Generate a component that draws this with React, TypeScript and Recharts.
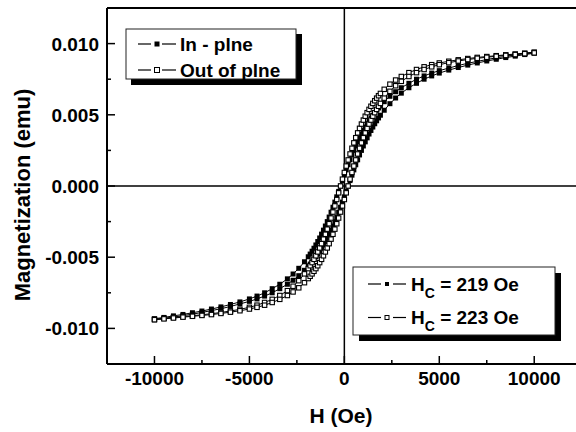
import React from 'react';
import { ScatterChart, Scatter, XAxis, YAxis, ReferenceLine } from 'recharts';

const hGrid = [-10000,-9500,-9000,-8500,-8000,-7500,-7000,-6500,-6000,-5500,-5000,-4600,-4200,-3800,-3400,-3000,-2700,-2400,-2100,
-1900,-1800,-1700,-1600,-1500,-1400,-1300,-1200,-1100,-1000,-900,-800,-700,-600,-500,-400,-300,-200,-100,0,100,200,300,400,500,600,700,800,900,1000,1100,1200,1300,1400,1500,1600,1700,1800,1900,
2100,2400,2700,3000,3400,3800,4200,4600,5000,5500,6000,6500,7000,7500,8000,8500,9000,9500,10000];

// Out of plane, descending field branch
const outDown = [-0.00935,-0.00929,-0.00923,-0.00917,-0.00911,-0.00904,-0.00897,-0.00888,-0.00878,-0.00866,-0.00852,-0.00837,-0.00818,-0.00796,-0.00769,-0.00735,-0.00704,-0.00665,-0.00617,
-0.0058,-0.0056,-0.00538,-0.00515,-0.0049,-0.00463,-0.00435,-0.00405,-0.00373,-0.00339,-0.00303,-0.00265,-0.00225,-0.00183,-0.0014,-0.00095,-0.00048,0,0.00048,0.00095,0.0014,0.00183,0.00225,0.00265,0.00303,0.00339,0.00373,0.00405,0.00435,0.00463,0.0049,0.00515,0.00538,0.0056,0.0058,0.00599,0.00617,0.00634,0.0065,
0.00679,0.00715,0.00744,0.00769,0.00796,0.00818,0.00837,0.00852,0.00864,0.00876,0.00886,0.00895,0.00903,0.00909,0.00915,0.00921,0.00927,0.00933,0.00939];

// Out of plane, ascending field branch
const outUp = [-0.00939,-0.00933,-0.00927,-0.00921,-0.00915,-0.00909,-0.00903,-0.00895,-0.00886,-0.00876,-0.00864,-0.00852,-0.00837,-0.00818,-0.00796,-0.00769,-0.00744,-0.00715,-0.00679,
-0.0065,-0.00634,-0.00617,-0.00599,-0.0058,-0.0056,-0.00538,-0.00515,-0.0049,-0.00463,-0.00435,-0.00405,-0.00373,-0.00339,-0.00303,-0.00265,-0.00225,-0.00183,-0.0014,-0.00095,-0.00048,0,0.00048,0.00095,0.0014,0.00183,0.00225,0.00265,0.00303,0.00339,0.00373,0.00405,0.00435,0.00463,0.0049,0.00515,0.00538,0.0056,0.0058,
0.00617,0.00665,0.00704,0.00735,0.00769,0.00796,0.00818,0.00837,0.00852,0.00866,0.00878,0.00888,0.00897,0.00904,0.00911,0.00917,0.00923,0.00929,0.00935];

// In plane, descending field branch
const inDown = [-0.00932,-0.00923,-0.00912,-0.00902,-0.0089,-0.00878,-0.00864,-0.00849,-0.00832,-0.00814,-0.00793,-0.00773,-0.0075,-0.00721,-0.0069,-0.00652,-0.00618,-0.00578,-0.00532,
-0.00497,-0.00478,-0.00458,-0.00437,-0.00414,-0.0039,-0.00365,-0.00338,-0.0031,-0.00281,-0.0025,-0.00218,-0.00184,-0.00149,-0.00113,-0.00076,-0.00038,0,0.00038,0.00076,0.00113,0.00149,0.00184,0.00218,0.0025,0.00281,0.0031,0.00338,0.00365,0.0039,0.00414,0.00437,0.00458,0.00478,0.00497,0.00515,0.00532,0.00548,0.00563,
0.00592,0.0063,0.00662,0.0069,0.00721,0.0075,0.00773,0.00793,0.0081,0.00828,0.00846,0.00862,0.00875,0.00888,0.009,0.0091,0.00921,0.00931,0.0094];

// In plane, ascending field branch
const inUp = [-0.0094,-0.00931,-0.00921,-0.0091,-0.009,-0.00888,-0.00875,-0.00862,-0.00846,-0.00828,-0.0081,-0.00793,-0.00773,-0.0075,-0.00721,-0.0069,-0.00662,-0.0063,-0.00592,
-0.00563,-0.00548,-0.00532,-0.00515,-0.00497,-0.00478,-0.00458,-0.00437,-0.00414,-0.0039,-0.00365,-0.00338,-0.0031,-0.00281,-0.0025,-0.00218,-0.00184,-0.00149,-0.00113,-0.00076,-0.00038,0,0.00038,0.00076,0.00113,0.00149,0.00184,0.00218,0.0025,0.00281,0.0031,0.00338,0.00365,0.0039,0.00414,0.00437,0.00458,0.00478,0.00497,
0.00532,0.00578,0.00618,0.00652,0.0069,0.00721,0.0075,0.00773,0.00793,0.00814,0.00832,0.00849,0.00864,0.00878,0.0089,0.00902,0.00912,0.00923,0.00932];

const xTicks = [-10000, -7500, -5000, -2500, 0, 2500, 5000, 7500, 10000];
const yTicks = [-0.01, -0.0075, -0.005, -0.0025, 0, 0.0025, 0.005, 0.0075, 0.01];

const legendTop = ['In - plne', 'Out of plne'];
const legendBottom = ['219', '223'];

const FONT = '"Liberation Sans", Arial, Helvetica, sans-serif';

const toPts = (m: number[]) => hGrid.map((h, i) => ({ h, m: m[i] }));

const FilledSq = (p: any) => (
  <rect x={p.cx - 2.5} y={p.cy - 2.5} width={5} height={5} fill="#000" />
);
const OpenSq = (p: any) => (
  <rect x={p.cx - 2.2} y={p.cy - 2.2} width={4.4} height={4.4} fill="#fff" stroke="#000" strokeWidth={1.1} />
);

const XTick = (props: any) => {
  const { x, y, payload } = props;
  const v = payload.value;
  const major = Math.abs(v) % 5000 === 0;
  return (
    <g>
      <line x1={x} x2={x} y1={y} y2={y - (major ? 8 : 4)} stroke="#000" strokeWidth={1.5} />
      {major && (
        <text x={x} y={y + 21} textAnchor="middle" fontFamily={FONT} fontWeight="bold" fontSize={19} fill="#000">
          {String(v)}
        </text>
      )}
    </g>
  );
};

const YTick = (props: any) => {
  const { x, y, payload } = props;
  const v = payload.value;
  const major = Math.abs(Math.round(v / 0.005) * 0.005 - v) < 1e-9;
  return (
    <g>
      <line x1={x} x2={x + (major ? 8 : 4)} y1={y} y2={y} stroke="#000" strokeWidth={1.5} />
      {major && (
        <text x={x - 8} y={y + 7} textAnchor="end" fontFamily={FONT} fontWeight="bold" fontSize={19} fill="#000">
          {v.toFixed(3)}
        </text>
      )}
    </g>
  );
};

export default function App() {
  return (
    <div style={{ position: 'absolute', left: 0, top: 0, width: 576, height: 432, background: '#fff' }}>
      <ScatterChart width={576} height={432} margin={{ top: 8, right: 0, bottom: 0, left: 0 }}>
        <XAxis
          type="number"
          dataKey="h"
          domain={[-12500, 12200]}
          ticks={xTicks}
          interval={0}
          height={68}
          tickSize={0}
          tickMargin={0}
          tickLine={false}
          tick={<XTick />}
          axisLine={{ stroke: '#000', strokeWidth: 2 }}
          allowDataOverflow
        />
        <YAxis
          type="number"
          dataKey="m"
          domain={[-0.0125, 0.0125]}
          ticks={yTicks}
          interval={0}
          width={107}
          tickSize={0}
          tickMargin={0}
          tickLine={false}
          tick={<YTick />}
          axisLine={{ stroke: '#000', strokeWidth: 2 }}
          allowDataOverflow
        />
        <ReferenceLine y={0.0125} stroke="#000" strokeWidth={2} />
        <ReferenceLine y={0} stroke="#000" strokeWidth={1.5} />
        <ReferenceLine x={0} stroke="#000" strokeWidth={1.5} />
        <Scatter data={toPts(inDown)} shape={<FilledSq />} line={{ stroke: '#000', strokeWidth: 1 }} isAnimationActive={false} />
        <Scatter data={toPts(inUp)} shape={<FilledSq />} line={{ stroke: '#000', strokeWidth: 1 }} isAnimationActive={false} />
        <Scatter data={toPts(outDown)} shape={<OpenSq />} line={{ stroke: '#000', strokeWidth: 1 }} isAnimationActive={false} />
        <Scatter data={toPts(outUp)} shape={<OpenSq />} line={{ stroke: '#000', strokeWidth: 1 }} isAnimationActive={false} />
      </ScatterChart>
      <svg width={576} height={432} style={{ position: 'absolute', left: 0, top: 0, pointerEvents: 'none' }}>
        {/* axis titles */}
        <text x={30} y={195} transform="rotate(-90 30 195)" textAnchor="middle" fontFamily={FONT} fontWeight="bold" fontSize={22} fill="#000">
          Magnetization (emu)
        </text>
        <text x={341} y={423} textAnchor="middle" fontFamily={FONT} fontWeight="bold" fontSize={21} fill="#000">
          H (Oe)
        </text>
        {/* legend 1 */}
        <rect x={131} y={34} width={171} height={51} fill="#000" />
        <rect x={126} y={29} width={170} height={50} fill="#fff" stroke="#222" strokeWidth={1} />
        {legendTop.map((t, i) => {
          const cy = 44 + i * 26;
          return (
            <g key={t}>
              <line x1={138} x2={151} y1={cy} y2={cy} stroke="#000" strokeWidth={1.2} />
              <line x1={162} x2={176} y1={cy} y2={cy} stroke="#000" strokeWidth={1.2} />
              {i === 0 ? (
                <rect x={154.5} y={cy - 2.5} width={5} height={5} fill="#000" />
              ) : (
                <rect x={154.5} y={cy - 2.5} width={5} height={5} fill="#fff" stroke="#000" strokeWidth={1} />
              )}
              <text x={180} y={cy + 6.5} fontFamily={FONT} fontWeight="bold" fontSize={19} fill="#000">
                {t}
              </text>
            </g>
          );
        })}
        {/* legend 2 */}
        <rect x={359} y={273} width={202} height={68} fill="#000" />
        <rect x={353} y={267} width={202} height={68} fill="#fff" stroke="#222" strokeWidth={1} />
        {legendBottom.map((v, i) => {
          const cy = 284 + i * 33.5;
          return (
            <g key={v}>
              <line x1={368} x2={381} y1={cy} y2={cy} stroke="#000" strokeWidth={1.2} />
              <line x1={393} x2={406} y1={cy} y2={cy} stroke="#000" strokeWidth={1.2} />
              {i === 0 ? (
                <rect x={385} y={cy - 2} width={4} height={4} fill="#000" />
              ) : (
                <rect x={385} y={cy - 2} width={4} height={4} fill="#fff" stroke="#000" strokeWidth={1} />
              )}
              <text x={411} y={cy + 6.5} fontFamily={FONT} fontWeight="bold" fontSize={19} fill="#000">
                <tspan>H</tspan>
                <tspan fontSize={14} dy={7}>C</tspan>
                <tspan dy={-7}>{` = ${v} Oe`}</tspan>
              </text>
            </g>
          );
        })}
      </svg>
    </div>
  );
}
